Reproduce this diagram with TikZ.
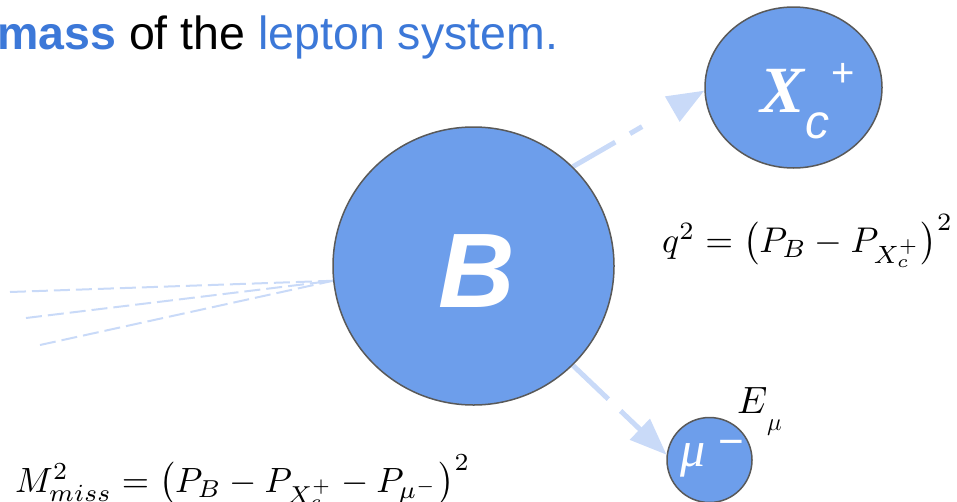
\documentclass[tikz,border=0pt]{standalone}
\usepackage{fontspec}
\usepackage{graphicx}
\usetikzlibrary{arrows.meta,shapes.geometric,backgrounds}
\newfontfamily\arialf{Liberation Sans}
\newfontfamily\timesf{Liberation Serif}
\definecolor{ballfill}{HTML}{6D9EEB}
\definecolor{ballline}{HTML}{595959}
\definecolor{paleblue}{HTML}{C9DAF8}
\definecolor{textblue}{HTML}{3C78D8}
\begin{document}
\begin{tikzpicture}[x=1pt,y=-1pt,
  ball/.style={ellipse, draw=ballline, line width=1.5pt, fill=ballfill, inner sep=0pt},
  lbl/.style={inner sep=0pt, text=white},
  blk/.style={inner sep=0pt, text=black},
  flight/.style={draw=paleblue, line width=5pt, -{Triangle[length=37pt,width=28pt]}},
  trace/.style={draw=paleblue, line width=2pt, dash pattern=on 16pt off 6pt}]
\useasboundingbox (0,0) rectangle (957,501);

% title text
\node[anchor=base west, inner sep=0pt, font=\arialf\fontsize{46.5}{50}\selectfont] (title) at (-3,49)
  {\textcolor{textblue}{\bfseries mass} of the \textcolor{textblue}{lepton system.}};

% particles
\node[ball, minimum width=281pt, minimum height=278pt] (B) at (473.5,266) {};
\node[ball, minimum width=177pt, minimum height=161pt] (Xc) at (793.5,87.5) {};
\node[ball, minimum width=85pt, minimum height=85pt] (mu) at (709.5,460) {};

% labels inside particles
\node[lbl, font=\arialf\bfseries\itshape\fontsize{106}{106}\selectfont] (Bl) at (477,271) {B};
\node[lbl, anchor=base west, font=\timesf\bfseries\itshape\fontsize{66}{66}\selectfont] (Xl) at (760,112) {X};
\node[lbl, anchor=base west, font=\arialf\itshape\fontsize{48}{48}\selectfont] (cl) at (805,138) {c};
\node[lbl, font=\arialf\fontsize{40}{40}\selectfont] (pl) at (843,75) {+};
\node[lbl, anchor=base west, font=\timesf\itshape\fontsize{50}{50}\selectfont] (ml) at (680,466) {μ};
\node[lbl, anchor=base, font=\arialf\fontsize{44}{44}\selectfont] (mm) at (731,456) {−};

% E_mu
\node[blk, anchor=base west] (El) at (737,413) {\resizebox{!}{26pt}{$E$}};
\node[blk, anchor=base west] (Esub) at (767,430) {\fontsize{24}{24}\selectfont$\mu$};

% formulas
\node[blk, anchor=base west] (q2) at (662,252)
  {\resizebox{291pt}{!}{$q^2 = \bigl(P_B - P_{X_c^+}\bigr)^2$}};
\node[blk, anchor=base west] (mmiss) at (15,492)
  {\resizebox{455pt}{!}{$M^2_{miss} = \bigl(P_B - P_{X_c^+} - P_{\mu^-}\bigr)^2$}};

% trace end points
\coordinate (t1) at (10,292);
\coordinate (t2) at (26,318);
\coordinate (t3) at (40,345);

\begin{scope}[on background layer]
  \draw[trace] (t1) -- (B.186);
  \draw[trace] (t2) -- (B.186);
  \draw[trace] (t3) -- (B.186);
  \draw[flight, dash pattern=on 49pt off 17pt on 14pt off 60pt] (B.45) -- (Xc.182);
  \draw[flight, dash pattern=on 49pt off 17pt on 60pt] (B.-45) -- (mu.173);
\end{scope}
\end{tikzpicture}
\end{document}
